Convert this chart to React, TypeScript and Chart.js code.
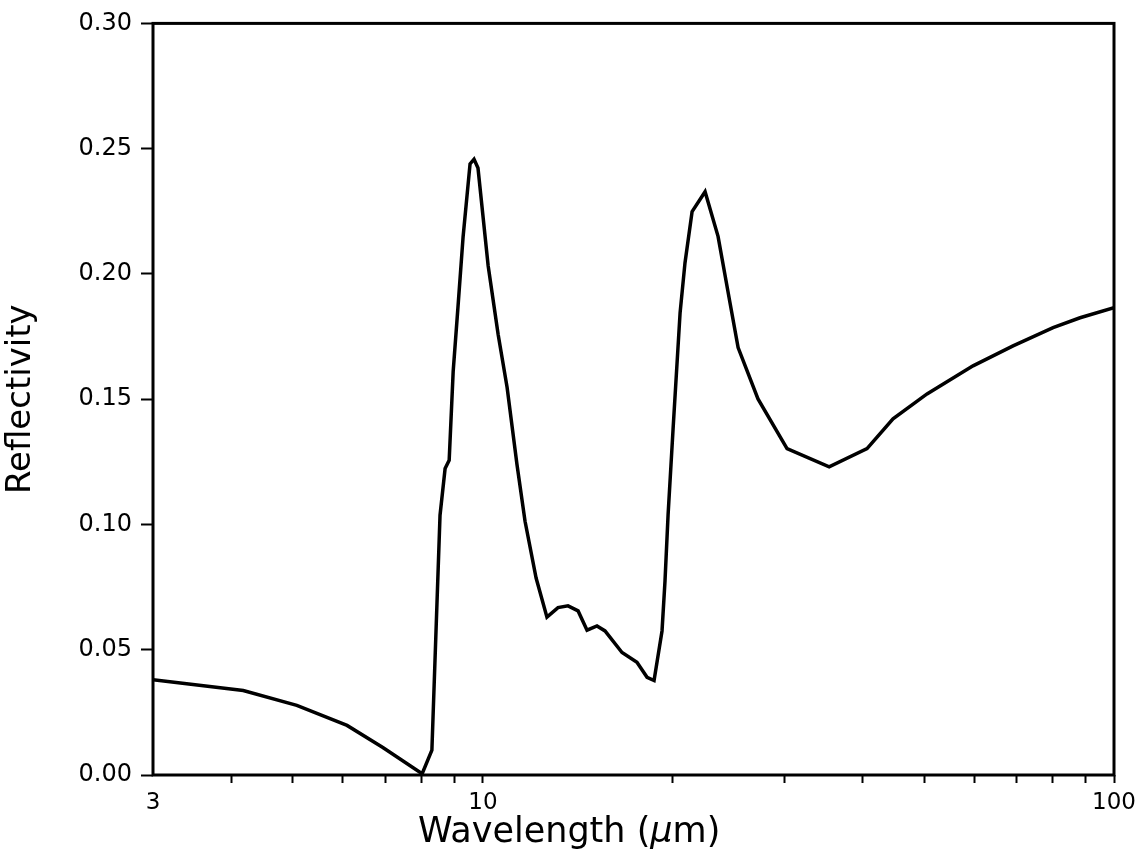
import React, { useEffect, useRef } from "react";
import { Chart, registerables } from "chart.js";

Chart.register(...registerables);

const wavelength = [
  3, 4.17, 5.07, 6.09, 6.94, 8.01, 8.3, 8.55, 8.71, 8.84, 8.97, 9.13, 9.3, 9.54,
  9.68, 9.82, 10.19, 10.57, 10.92, 11.32, 11.66, 12.14, 12.63, 13.15, 13.64,
  14.15, 14.62, 15.16, 15.61, 16.61, 17.54, 18.2, 18.67, 19.22, 19.43, 19.65,
  20.01, 20.53, 20.9, 21.45, 22.49, 23.58, 24.63, 25.37, 27.28, 30.33, 35.37,
  40.61, 44.65, 50.55, 59.79, 69.19, 80.07, 88.35, 100,
];

const reflectivity = [
  0.038, 0.0337, 0.0278, 0.0198, 0.011, 0.0005, 0.0099, 0.1037, 0.1223, 0.1256,
  0.161, 0.187, 0.2147, 0.2439, 0.2458, 0.2423, 0.2034, 0.1758, 0.1548, 0.124,
  0.1013, 0.0786, 0.063, 0.0668, 0.0675, 0.0655, 0.0578, 0.0595, 0.0575, 0.0489,
  0.045, 0.039, 0.0377, 0.0575, 0.0774, 0.1038, 0.138, 0.1845, 0.2044, 0.2249,
  0.2328, 0.215, 0.1885, 0.1706, 0.1501, 0.1303, 0.123, 0.1303, 0.1422, 0.1521,
  0.1633, 0.1713, 0.1786, 0.1825, 0.1865,
];

const xTickValues = [3, 4, 5, 6, 7, 8, 9, 10, 20, 30, 40, 50, 60, 70, 80, 90, 100];
const xTickLabels = ["3", "", "", "", "", "", "", "10", "", "", "", "", "", "", "", "", "100"];
const yTickValues = [0, 0.05, 0.1, 0.15, 0.2, 0.25, 0.3];
const yTickLabels = ["0.00", "0.05", "0.10", "0.15", "0.20", "0.25", "0.30"];
const xTitleParts = ["Wavelength (", "μ", "m)"];
const yTitle = "Reflectivity";

const FONT = "'DejaVu Sans', sans-serif";

export default function App() {
  const ref = useRef<HTMLCanvasElement>(null);

  useEffect(() => {
    if (!ref.current) return;
    const frame = {
      id: "frame",
      afterDatasetsDraw(chart: any) {
        const { ctx, chartArea } = chart;
        const { left, top, right, bottom } = chartArea;
        ctx.save();
        ctx.strokeStyle = "#000";
        ctx.lineWidth = 3;
        ctx.strokeRect(left, top, right - left, bottom - top);
        ctx.restore();
      },
      afterDraw(chart: any) {
        const { ctx, chartArea } = chart;
        const size = 35;
        const fonts = [
          `${size}px ${FONT}`,
          `italic ${size}px ${FONT}`,
          `${size}px ${FONT}`,
        ];
        ctx.save();
        ctx.fillStyle = "#000";
        ctx.textBaseline = "alphabetic";
        ctx.textAlign = "left";
        const widths = xTitleParts.map((t, i) => {
          ctx.font = fonts[i];
          return ctx.measureText(t).width;
        });
        const total = widths.reduce((a, b) => a + b, 0);
        const cx = chartArea.left + (chartArea.right - chartArea.left) * 0.433;
        let x = cx - total / 2;
        const y = chartArea.bottom + 67;
        xTitleParts.forEach((t, i) => {
          ctx.font = fonts[i];
          ctx.fillText(t, x, y);
          x += widths[i];
        });
        ctx.restore();
      },
    };
    const chart = new Chart(ref.current, {
      type: "line",
      data: {
        datasets: [
          {
            data: wavelength.map((x, i) => ({ x, y: reflectivity[i] })),
            borderColor: "#000",
            borderWidth: 3.5,
            pointRadius: 0,
            tension: 0,
            fill: false,
          },
        ],
      },
      options: {
        animation: false,
        responsive: false,
        layout: { padding: { top: 19, right: 28, left: 0, bottom: 0 } },
        plugins: { legend: { display: false }, tooltip: { enabled: false } },
        scales: {
          x: {
            type: "logarithmic",
            position: "bottom",
            min: 3,
            max: 100,
            afterFit(s: any) {
              s.height = 89;
            },
            afterBuildTicks(s: any) {
              s.ticks = xTickValues.map((v) => ({ value: v }));
            },
            ticks: {
              autoSkip: false,
              maxRotation: 0,
              minRotation: 0,
              padding: 6,
              color: "#000",
              font: { family: FONT, size: 23 },
              callback: (_v: any, i: number) => xTickLabels[i],
            },
            grid: {
              display: true,
              drawOnChartArea: false,
              drawTicks: true,
              tickLength: 8,
              tickWidth: 2,
              tickColor: (c: any) => (c.index === 0 ? "rgba(0,0,0,0)" : "#000"),
            },
            border: { display: false },
            title: { display: false },
          },
          y: {
            type: "linear",
            min: 0,
            max: 0.3,
            afterFit(s: any) {
              s.width = 153;
            },
            afterBuildTicks(s: any) {
              s.ticks = yTickValues.map((v) => ({ value: v }));
            },
            ticks: {
              padding: 9,
              color: "#000",
              font: { family: FONT, size: 24 },
              callback: (_v: any, i: number) => yTickLabels[i],
            },
            grid: {
              display: true,
              drawOnChartArea: false,
              drawTicks: true,
              tickLength: 12,
              tickWidth: 2,
              tickColor: "#000",
            },
            border: { display: false },
            title: {
              display: true,
              text: yTitle,
              color: "#000",
              font: { family: FONT, size: 34 },
              padding: { top: 1, bottom: 0 },
            },
          },
        },
      },
      plugins: [frame],
    } as any);
    return () => chart.destroy();
  }, []);

  return (
    <div style={{ position: "absolute", left: 0, top: 0, width: 1142, height: 864, background: "#fff" }}>
      <canvas ref={ref} width={1142} height={864} style={{ display: "block" }} />
    </div>
  );
}
